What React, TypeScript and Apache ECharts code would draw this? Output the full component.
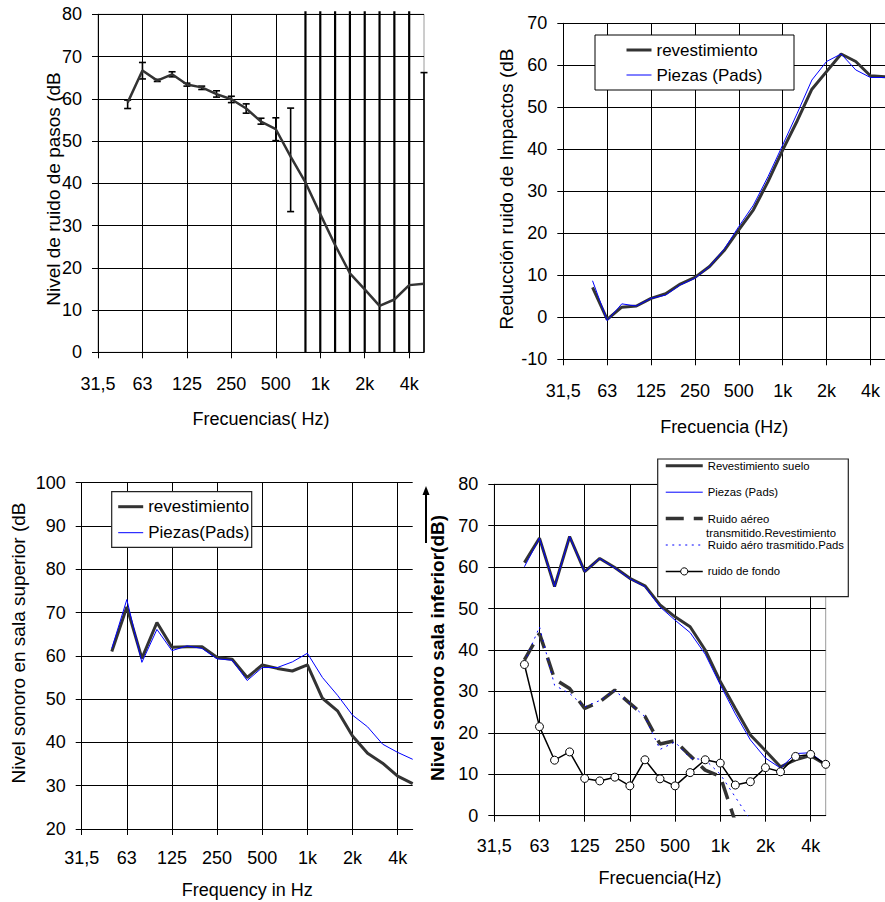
import React, { useEffect, useRef } from 'react';
import * as echarts from 'echarts';

const FONT = '"Liberation Sans", Arial, Helvetica, sans-serif';

// Third-octave bands on the x axis (31,5 Hz .. 5 kHz)
const BANDS = ['31,5', '40', '50', '63', '80', '100', '125', '160', '200', '250', '315', '400', '500', '630', '800', '1k', '1,25k', '1,6k', '2k', '2,5k', '3,15k', '4k', '5k'];
// Octave tick labels (shown every third band)
const OCTAVE_LABELS = ['31,5', '63', '125', '250', '500', '1k', '2k', '4k'];
// Measured data start at the 50 Hz band
const FIRST_BAND = BANDS.indexOf('50');

// Chart 1: Nivel de ruido de pasos
const PASOS_NIVEL = [59.1, 66.7, 64.3, 65.8, 63.4, 62.7, 61.1, 59.9, 57.7, 54.6, 52.8, 46.3, 40.2, 32.7, 25.4, 18.7, 14.9, 11.0, 12.5, 15.9, 16.2];
const PASOS_ERR_LOW = [57.7, 64.7, 64.1, 65.2, 63.0, 62.2, 60.4, 59.1, 56.6, 54.0, 50.1, 33.3, -5, -5, -5, -5, -5, -5, -5, -5, -5];
const PASOS_ERR_HIGH = [59.7, 68.6, 64.6, 66.4, 63.7, 63.0, 61.9, 60.6, 58.8, 55.4, 55.5, 57.8, 90, 90, 90, 90, 90, 90, 90, 90, 66.2];

// Chart 2: Reducción ruido de impactos
const IMPACT_REV = [7.1, -0.5, 2.4, 2.7, 4.5, 5.6, 7.9, 9.5, 12.1, 15.9, 20.8, 25.6, 32.3, 39.8, 46.8, 54.3, 58.5, 62.7, 60.9, 57.5, 57.3];
const IMPACT_PADS = [8.7, -0.8, 3.2, 2.7, 4.5, 5.3, 7.7, 9.3, 12.1, 16.2, 21.6, 26.7, 33.5, 41.0, 48.6, 56.5, 60.9, 62.7, 58.9, 57.1, 57.1];

// Chart 3: Nivel sonoro en sala superior
const SUP_REV = [61.0, 71.3, 59.4, 67.7, 62.0, 62.1, 62.1, 59.6, 59.2, 55.0, 57.9, 57.1, 56.5, 57.9, 50.2, 47.3, 41.5, 37.5, 35.2, 32.2, 30.5];
const SUP_PADS = [61.7, 73.0, 58.5, 66.1, 61.2, 62.3, 61.7, 59.3, 59.0, 54.3, 57.3, 57.3, 58.6, 60.6, 55.0, 50.9, 46.3, 43.6, 39.6, 37.7, 36.1];

// Chart 4: Nivel sonoro sala inferior
const INF_REV = [61.1, 67.0, 55.3, 67.4, 58.9, 62.1, 59.9, 57.3, 55.5, 50.9, 48.0, 45.6, 40.0, 32.4, 25.9, 19.5, 15.7, 11.8, 13.5, 14.5, 12.3];
const INF_PADS = [60.1, 67.0, 55.3, 67.4, 58.9, 62.1, 59.8, 57.2, 55.3, 50.4, 47.2, 44.2, 39.0, 31.6, 24.6, 18.3, 13.9, 11.5, 15.0, 15.2, 12.3];
const AIR_REV = [37.6, 44.0, 33.0, 30.7, 25.9, 27.5, 30.3, 27.1, 24.0, 17.3, 18.1, 14.5, 11.0, 9.5, -1.5];
const AIR_PADS = [37.0, 45.6, 31.5, 29.5, 26.3, 27.8, 30.2, 27.1, 23.9, 16.0, 17.8, 13.9, 13.5, 10.0, 4.5, -1.0];
const FONDO = [36.5, 21.5, 13.4, 15.4, 9.0, 8.4, 9.3, 7.2, 13.5, 8.9, 7.2, 10.4, 13.5, 12.7, 7.4, 8.2, 11.6, 10.6, 14.3, 14.8, 12.4];

// Axis titles
const X_TITLES = ['Frecuencias( Hz)', 'Frecuencia (Hz)', 'Frequency in Hz', 'Frecuencia(Hz)'];
const Y_TITLES = ['Nivel de ruido de pasos (dB', 'Reducción ruido de Impactos (dB', 'Nivel sonoro en sala superior (dB', 'Nivel sonoro sala inferior(dB)'];

const N_REV = 'revestimiento';
const N_PADS2 = 'Piezas (Pads)';
const N_PADS3 = 'Piezas(Pads)';
const N4_REV = 'Revestimiento suelo';
const N4_PADS = 'Piezas (Pads)\u200B';
const N4_AIR_REV = 'Ruido aéreo transmitido.Revestimiento';
const N4_AIR_PADS = 'Ruido aéro trasmitido.Pads';
const N4_FONDO = 'ruido de fondo';

const DARK = '#333333';
const BLUE = '#0000ff';

function toBands(values: (number | null)[]): (number | null)[] {
  const out: (number | null)[] = BANDS.map(() => null);
  values.forEach((v, i) => {
    out[FIRST_BAND + i] = v;
  });
  return out;
}

function xAxisCfg(gridIndex: number, name: string, labelMargin: number, nameGap: number) {
  return {
    type: 'category',
    gridIndex,
    data: BANDS,
    boundaryGap: false,
    name,
    nameLocation: 'middle',
    nameGap,
    nameTextStyle: { fontSize: 18, color: '#000', fontFamily: FONT },
    axisLine: { onZero: false, lineStyle: { color: '#000', width: 1 } },
    axisTick: { show: true, interval: 2, length: 6, lineStyle: { color: '#000', width: 1 } },
    axisLabel: {
      interval: 2,
      margin: labelMargin,
      fontSize: 18,
      color: '#000',
      fontFamily: FONT,
      formatter: (_v: string, i: number) => (i % 3 === 0 ? OCTAVE_LABELS[i / 3] : ''),
    },
    splitLine: { show: true, interval: 2, lineStyle: { color: '#000', width: 1 } },
  };
}

function yAxisCfg(gridIndex: number, min: number, max: number) {
  return {
    type: 'value',
    gridIndex,
    min,
    max,
    interval: 10,
    axisLine: { show: true, lineStyle: { color: '#000', width: 1 } },
    axisTick: { show: true, length: 6, lineStyle: { color: '#000', width: 1 } },
    axisLabel: { margin: 16, fontSize: 18, color: '#000', fontFamily: FONT },
    splitLine: { show: true, lineStyle: { color: '#000', width: 1 } },
  };
}

function yTitle(text: string, x: number, y: number, bold = false) {
  return {
    type: 'text',
    z: 5,
    x,
    y,
    rotation: Math.PI / 2,
    style: {
      text,
      fontSize: 19,
      fontWeight: bold ? 'bold' : 'normal',
      fontFamily: FONT,
      fill: '#000',
      align: 'center',
      verticalAlign: 'middle',
    },
  };
}

function lineSeries(name: string, data: (number | null)[], idx: number, color: string, width: number, type: any = 'solid') {
  return {
    type: 'line',
    name,
    xAxisIndex: idx,
    yAxisIndex: idx,
    data: toBands(data),
    symbol: 'none',
    lineStyle: { color, width, type },
    itemStyle: { color },
    clip: true,
  };
}

const Y1_MAX = 80;
const Y1_MIN = 0;

const errorBarSeries = {
  type: 'custom',
  name: 'error',
  xAxisIndex: 0,
  yAxisIndex: 0,
  z: 3,
  data: PASOS_ERR_LOW.map((lo, i) => [FIRST_BAND + i, lo, PASOS_ERR_HIGH[i]]),
  encode: { x: 0, y: [1, 2] },
  renderItem: (_params: any, api: any) => {
    const idx = api.value(0);
    const lo = api.value(1);
    const hi = api.value(2);
    const pLo = api.coord([idx, lo]);
    const pHi = api.coord([idx, hi]);
    const topLim = api.coord([idx, Y1_MAX])[1] - 3;
    const botLim = api.coord([idx, Y1_MIN])[1];
    const x = pLo[0];
    const yHi = Math.max(pHi[1], topLim);
    const yLo = Math.min(pLo[1], botLim);
    const clippedHi = pHi[1] < topLim;
    const clippedLo = pLo[1] > botLim;
    const children: any[] = [
      { type: 'line', shape: { x1: x, y1: yLo, x2: x, y2: yHi }, style: { stroke: '#000', lineWidth: clippedHi ? 2.2 : 1.6 } },
    ];
    if (!clippedHi) children.push({ type: 'line', shape: { x1: x - 3.5, y1: yHi, x2: x + 3.5, y2: yHi }, style: { stroke: '#000', lineWidth: 1.6 } });
    if (!clippedLo) children.push({ type: 'line', shape: { x1: x - 3.5, y1: yLo, x2: x + 3.5, y2: yLo }, style: { stroke: '#000', lineWidth: 1.6 } });
    return { type: 'group', children };
  },
};

const legendCommon = {
  orient: 'vertical',
  selectedMode: false,
  padding: 0,
  lineStyle: { width: 'inherit' },
  itemStyle: { borderWidth: 'inherit' },
};

// legend entry drawn as a plain line sample (no marker)
const lineOnly = (name: string) => ({ name, itemStyle: { opacity: 0 } });

const option: any = {
  animation: false,
  backgroundColor: '#ffffff',
  textStyle: { fontFamily: FONT },
  grid: [
    { left: 98, top: 14.3, width: 326, height: 338, show: true, borderColor: '#9a9a9a', borderWidth: 1 },
    { left: 563.3, top: 23.3, width: 323, height: 336 },
    { left: 81.7, top: 482.7, width: 331, height: 346.3 },
    { left: 494.3, top: 484.3, width: 331.4, height: 331.4, show: true, borderColor: '#9a9a9a', borderWidth: 1 },
  ],
  xAxis: [
    xAxisCfg(0, X_TITLES[0], 23, 58),
    xAxisCfg(1, X_TITLES[1], 23, 59),
    xAxisCfg(2, X_TITLES[2], 20, 52),
    xAxisCfg(3, X_TITLES[3], 21, 53),
  ],
  yAxis: [
    yAxisCfg(0, 0, 80),
    yAxisCfg(1, -10, 70),
    yAxisCfg(2, 20, 100),
    yAxisCfg(3, 0, 80),
  ],
  legend: [
    {
      ...legendCommon,
      data: [lineOnly(N_REV), lineOnly(N_PADS2)],
      left: 625,
      top: 41.5,
      itemWidth: 25,
      itemHeight: 14,
      itemGap: 8,
      textStyle: { fontSize: 17, color: '#000', fontFamily: FONT },
    },
    {
      ...legendCommon,
      data: [lineOnly(N_REV), lineOnly(N_PADS3)],
      left: 116.7,
      top: 498.2,
      itemWidth: 25,
      itemHeight: 14,
      itemGap: 9,
      textStyle: { fontSize: 17, color: '#000', fontFamily: FONT },
    },
    {
      ...legendCommon,
      data: [lineOnly(N4_REV), lineOnly(N4_PADS), lineOnly(N4_AIR_REV), lineOnly(N4_AIR_PADS), { name: N4_FONDO }],
      left: 664,
      top: 460.3,
      itemWidth: 37,
      itemHeight: 9,
      itemGap: 15.4,
      formatter: (name: string) => (name === N4_AIR_REV ? 'Ruido aéreo' : name === N4_PADS ? 'Piezas (Pads)' : name),
      textStyle: { fontSize: 11.3, color: '#000', fontFamily: FONT },
    },
  ],
  graphic: [
    { type: 'rect', z: 3, shape: { x: 595, y: 35, width: 199, height: 55 }, style: { fill: '#fff', stroke: '#000', lineWidth: 1 } },
    { type: 'rect', z: 3, shape: { x: 111.7, y: 491.7, width: 140, height: 55.6 }, style: { fill: '#fff', stroke: '#222', lineWidth: 1.2 } },
    { type: 'rect', z: 3, shape: { x: 657.7, y: 459, width: 190.6, height: 137.7 }, style: { fill: '#fff', stroke: '#222', lineWidth: 1.2 } },
    {
      type: 'text', z: 5, x: 706, y: 533,
      style: { text: 'transmitido.Revestimiento', fontSize: 11.3, fill: '#000', fontFamily: FONT, verticalAlign: 'middle' },
    },
    yTitle(Y_TITLES[0], 53, 189),
    yTitle(Y_TITLES[1], 506.7, 189),
    yTitle(Y_TITLES[2], 18.3, 643),
    yTitle(Y_TITLES[3], 437.5, 648, true),
    { type: 'line', z: 5, shape: { x1: 426, y1: 543, x2: 426, y2: 493 }, style: { stroke: '#000', lineWidth: 2 } },
    { type: 'polygon', z: 5, shape: { points: [[426, 486], [422.5, 495], [429.5, 495]] }, style: { fill: '#000' } },
  ],
  series: [
    lineSeries('Nivel de ruido de pasos', PASOS_NIVEL, 0, DARK, 2.5),
    errorBarSeries,
    lineSeries(N_REV, IMPACT_REV, 1, DARK, 3),
    lineSeries(N_PADS2, IMPACT_PADS, 1, BLUE, 1),
    lineSeries(N_REV, SUP_REV, 2, DARK, 3),
    lineSeries(N_PADS3, SUP_PADS, 2, BLUE, 1),
    lineSeries(N4_REV, INF_REV, 3, DARK, 3),
    lineSeries(N4_PADS, INF_PADS, 3, BLUE, 1),
    lineSeries(N4_AIR_REV, AIR_REV, 3, DARK, 3.5, [18, 10]),
    lineSeries(N4_AIR_PADS, AIR_PADS, 3, BLUE, 1, [2, 4.5]),
    {
      type: 'line',
      name: N4_FONDO,
      xAxisIndex: 3,
      yAxisIndex: 3,
      data: toBands(FONDO),
      symbol: 'circle',
      symbolSize: 8,
      showSymbol: true,
      showAllSymbol: true,
      lineStyle: { color: '#000', width: 1.5 },
      itemStyle: { color: '#fff', borderColor: '#000', borderWidth: 1 },
      clip: true,
    },
  ],
};

export default function App() {
  const ref = useRef<HTMLDivElement>(null);
  useEffect(() => {
    if (!ref.current) return;
    const chart = echarts.init(ref.current, null, { renderer: 'svg' });
    chart.setOption(option);
    return () => chart.dispose();
  }, []);
  return (
    <div
      ref={ref}
      style={{ position: 'absolute', left: 0, top: 0, width: 885, height: 902, background: '#fff' }}
    />
  );
}
